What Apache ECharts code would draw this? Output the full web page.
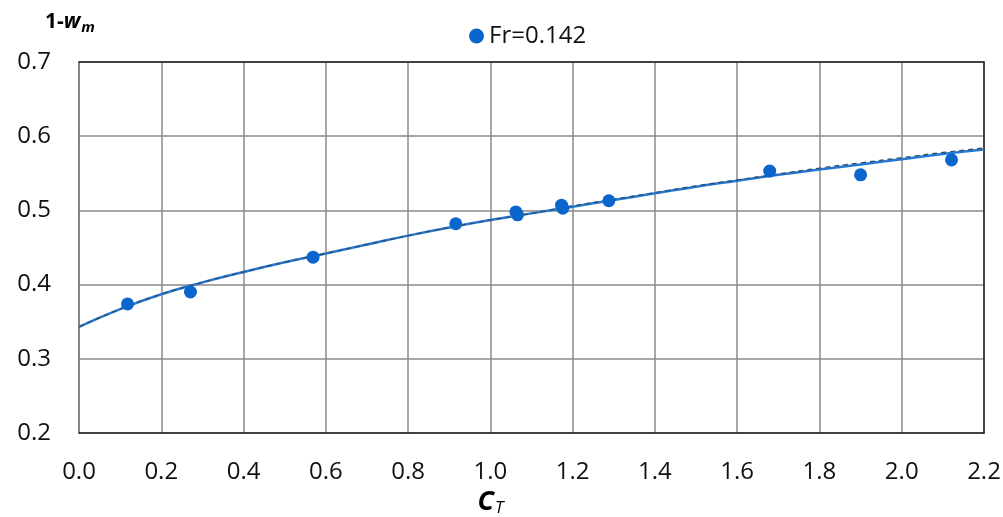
<!DOCTYPE html>
<html>
<head>
<meta charset="utf-8">
<script src="https://cdn.jsdelivr.net/npm/echarts@6/dist/echarts.min.js"></script>
<style>
  html, body { margin: 0; padding: 0; background: #fff; }
  #chart { width: 1003px; height: 517px; }
</style>
</head>
<body>
<div id="chart"></div>
<script>
// Measured points, Fr = 0.142
const ctValues = [0.118, 0.271, 0.569, 0.916, 1.062, 1.066, 1.173, 1.176, 1.288, 1.679, 1.900, 2.121];
const wakeValues = [0.374, 0.390, 0.437, 0.482, 0.498, 0.494, 0.507, 0.503, 0.513, 0.553, 0.548, 0.568];

// Fitted trend curves (solid and dashed)
const fitX = [0.0, 0.1, 0.2, 0.3, 0.4, 0.5, 0.6, 0.7, 0.8, 0.9, 1.0, 1.1, 1.2, 1.3, 1.4, 1.5, 1.6, 1.7, 1.8, 1.9, 2.0, 2.1, 2.2];
const fitSolid = [0.343, 0.367, 0.387, 0.403, 0.417, 0.430, 0.442, 0.454, 0.466, 0.477, 0.487, 0.496, 0.505, 0.514, 0.523, 0.532, 0.540, 0.548, 0.555, 0.562, 0.569, 0.576, 0.582];
const fitDashed = [0.343, 0.367, 0.387, 0.403, 0.417, 0.430, 0.442, 0.454, 0.466, 0.477, 0.487, 0.496, 0.506, 0.515, 0.524, 0.533, 0.541, 0.549, 0.557, 0.564, 0.571, 0.578, 0.584];

const xTicks = { min: 0, max: 2.2, step: 0.2 };
const yTicks = { min: 0.2, max: 0.7, step: 0.1 };

const font = '"Open Sans", "Liberation Sans", sans-serif';
const zip = (xs, ys) => xs.map((x, i) => [x, ys[i]]);

const chart = echarts.init(document.getElementById('chart'), null, { renderer: 'canvas' });
chart.setOption({
  animation: false,
  backgroundColor: '#fff',
  textStyle: { fontFamily: font },
  title: {
    left: 40, top: 4,
    text: '{a|1-}{w|w}{m|m}',
    textStyle: {
      fontSize: 21, fontWeight: 'bold', fontFamily: font, color: '#000',
      rich: {
        a: { fontFamily: font, fontWeight: 'bold', fontSize: 21, color: '#000' },
        w: { fontFamily: font, fontWeight: 'bold', fontStyle: 'italic', fontSize: 21, color: '#000' },
        m: { fontFamily: font, fontWeight: 'bold', fontStyle: 'italic', fontSize: 15, color: '#000', padding: [11, 0, 0, 1] }
      }
    }
  },
  legend: {
    data: ['Fr=0.142'],
    left: 464, top: 19,
    icon: 'circle', itemWidth: 15, itemHeight: 15, itemGap: 8,
    textStyle: { fontFamily: font, fontSize: 24, color: '#111' }
  },
  grid: { left: 79, right: 19, top: 62, bottom: 84, containLabel: false, outerBoundsMode: 'none' },
  xAxis: [{
    type: 'value', min: xTicks.min, max: xTicks.max, interval: xTicks.step,
    name: '{c|C}{t|T}', nameLocation: 'middle', nameGap: 46,
    nameTextStyle: {
      padding: [0, 82, 0, 0],
      rich: {
        c: { fontFamily: font, fontWeight: 'bold', fontStyle: 'italic', fontSize: 27, color: '#000' },
        t: { fontFamily: font, fontStyle: 'italic', fontSize: 17, color: '#000', padding: [12, 0, 0, 1] }
      }
    },
    axisLine: { show: true, lineStyle: { color: '#222', width: 1.5 } },
    axisTick: { show: false },
    axisLabel: { margin: 27, fontSize: 24, color: '#111', fontFamily: font, formatter: v => v.toFixed(1) },
    splitLine: { show: true, lineStyle: { color: '#8a8a8a', width: 1.5 } }
  }, {
    type: 'value', position: 'top', min: xTicks.min, max: xTicks.max, interval: xTicks.step,
    axisLine: { show: true, onZero: false, lineStyle: { color: '#222', width: 1.5 } },
    axisTick: { show: false }, axisLabel: { show: false }, splitLine: { show: false }
  }],
  yAxis: [{
    type: 'value', min: yTicks.min, max: yTicks.max, interval: yTicks.step,
    axisLine: { show: true, lineStyle: { color: '#7a7a7a', width: 1.5 } },
    axisTick: { show: false },
    axisLabel: { margin: 28, fontSize: 24, color: '#111', fontFamily: font, formatter: v => v.toFixed(1) },
    splitLine: { show: true, lineStyle: { color: '#8a8a8a', width: 1.5 } }
  }, {
    type: 'value', position: 'right', min: yTicks.min, max: yTicks.max, interval: yTicks.step,
    axisLine: { show: true, onZero: false, lineStyle: { color: '#222', width: 1.5 } },
    axisTick: { show: false }, axisLabel: { show: false }, splitLine: { show: false }
  }],
  series: [{
    name: 'fit', type: 'line', smooth: true, showSymbol: false, silent: true,
    data: zip(fitX, fitSolid),
    lineStyle: { color: '#2379d4', width: 2.5 }, z: 2
  }, {
    name: 'fit2', type: 'line', smooth: true, showSymbol: false, silent: true,
    data: zip(fitX, fitDashed),
    lineStyle: { color: '#34506e', width: 1.4, type: [5, 4] }, z: 3
  }, {
    name: 'Fr=0.142', type: 'scatter',
    data: zip(ctValues, wakeValues),
    symbol: 'circle', symbolSize: 13,
    itemStyle: { color: '#0a66cc', opacity: 1 }, z: 5
  }]
});
</script>
</body>
</html>
